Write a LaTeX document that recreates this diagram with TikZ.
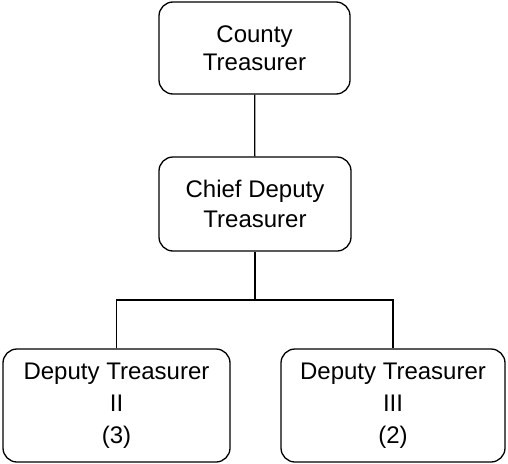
\documentclass[tikz,border=0pt]{standalone}
\usepackage{fontspec}
\setmainfont{Liberation Sans}
\begin{document}
\begin{tikzpicture}[x=1pt,y=-1pt,
  post/.style={draw, line width=1.3pt, rounded corners=14pt, align=center,
    inner sep=0pt, anchor=center},
  link/.style={line width=1.3pt}]
\useasboundingbox (0,0) rectangle (508,463);
% positions
\node[post, minimum width=191pt, minimum height=92pt,
  font={\fontsize{24}{28.5}\selectfont}] (treas) at (254.5,48) {County\\Treasurer};
\node[post, minimum width=192pt, minimum height=94pt,
  font={\fontsize{24}{30}\selectfont}] (chief) at (255,204) {Chief Deputy\\Treasurer};
\node[post, minimum width=227pt, minimum height=113pt,
  font={\fontsize{24}{32}\selectfont}] (dtwo) at (116.5,405.5) {Deputy Treasurer\\II\\(3)};
\node[post, minimum width=224pt, minimum height=113pt,
  font={\fontsize{24}{32}\selectfont}] (dthree) at (393,405.5) {Deputy Treasurer\\III\\(2)};
\coordinate (bus) at (255,300);
% reporting lines
\draw[link] (treas) -- (chief);
\draw[link] (chief) -- (bus);
\draw[link] (dtwo.north) |- (bus) -| (dthree.north);
\end{tikzpicture}
\end{document}
